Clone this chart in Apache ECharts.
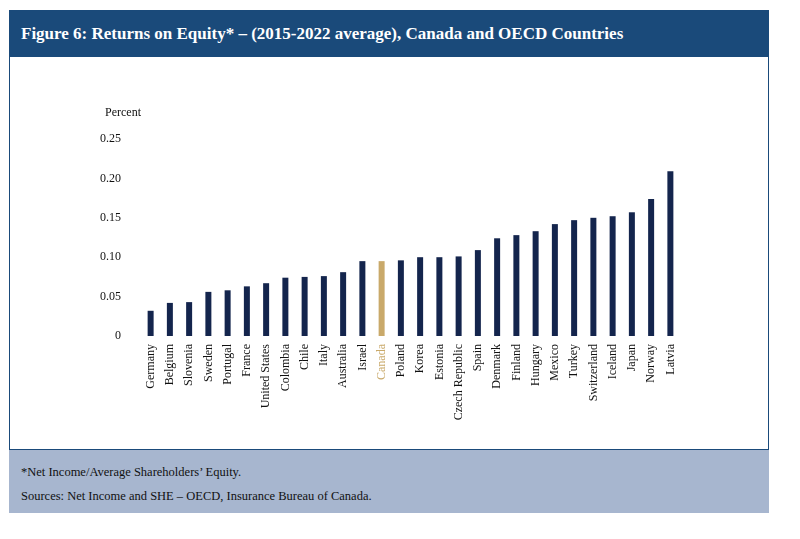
<!DOCTYPE html>
<html>
<head>
<meta charset="utf-8">
<script src="https://cdn.jsdelivr.net/npm/echarts@6/dist/echarts.min.js"></script>
<style>
  body { margin: 0; background: #fff; font-family: "Liberation Serif", serif; }
  #wrap { position: absolute; left: 9px; top: 10px; width: 760px; height: 503px; }
  #head { position: absolute; left: 0; top: 0; width: 760px; height: 47px; background: #1a4a7a; color: #fff;
          font-size: 17px; font-weight: bold; line-height: 47px; padding-left: 12px; box-sizing: border-box; }
  #panel { position: absolute; left: 0; top: 47px; width: 760px; height: 393px; border: 1px solid #1a4a7a; border-top: none; box-sizing: border-box; }
  #chart { position: absolute; left: 0; top: 0; width: 758px; height: 392px; }
  #foot { position: absolute; left: 0; top: 440px; width: 760px; height: 63px; background: #a7b6cf; color: #111;
          font-size: 12.5px; padding: 10px 12px; box-sizing: border-box; line-height: 24px; }
</style>
</head>
<body>
<div id="wrap">
  <div id="head">Figure 6: Returns on Equity* – (2015-2022 average), Canada and OECD Countries</div>
  <div id="panel"><div id="chart"></div></div>
  <div id="foot">*Net Income/Average Shareholders’ Equity.<br>Sources: Net Income and SHE – OECD, Insurance Bureau of Canada.</div>
</div>
<script>
var categories = ["Germany","Belgium","Slovenia","Sweden","Portugal","France","United States","Colombia","Chile","Italy","Australia","Israel","Canada","Poland","Korea","Estonia","Czech Republic","Spain","Denmark","Finland","Hungary","Mexico","Turkey","Switzerland","Iceland","Japan","Norway","Latvia"];
var values = [0.032,0.042,0.043,0.056,0.058,0.063,0.067,0.074,0.075,0.076,0.081,0.095,0.095,0.096,0.100,0.100,0.101,0.109,0.124,0.128,0.133,0.142,0.147,0.150,0.152,0.157,0.174,0.209];
var highlight = "Canada";

var chart = echarts.init(document.getElementById('chart'));
chart.setOption({
  textStyle: { fontFamily: "Liberation Serif" },
  grid: { left: 131, right: 88, top: 82, bottom: 113 },
  xAxis: {
    type: 'category', data: categories,
    axisLine: { show: false }, axisTick: { show: false },
    axisLabel: { rotate: 90, interval: 0, fontSize: 12, color: function (v) { return v === highlight ? '#c9a96a' : '#111'; } }
  },
  yAxis: {
    type: 'value', min: 0, max: 0.25, interval: 0.05,
    name: 'Percent', nameLocation: 'end', nameGap: 20,
    nameTextStyle: { fontSize: 12, color: '#111', align: 'right', padding: [0, 0, 0, 0] },
    splitLine: { show: false }, axisLine: { show: false }, axisTick: { show: false },
    axisLabel: { fontSize: 12, color: '#111', margin: 20, formatter: function (v) { return v === 0 ? '0' : v.toFixed(2); } }
  },
  series: [{
    type: 'bar', barWidth: 6,
    data: values.map(function (v, i) {
      return { value: v, itemStyle: { color: categories[i] === highlight ? '#c9a96a' : '#14254d' } };
    })
  }]
});
</script>
</body>
</html>
